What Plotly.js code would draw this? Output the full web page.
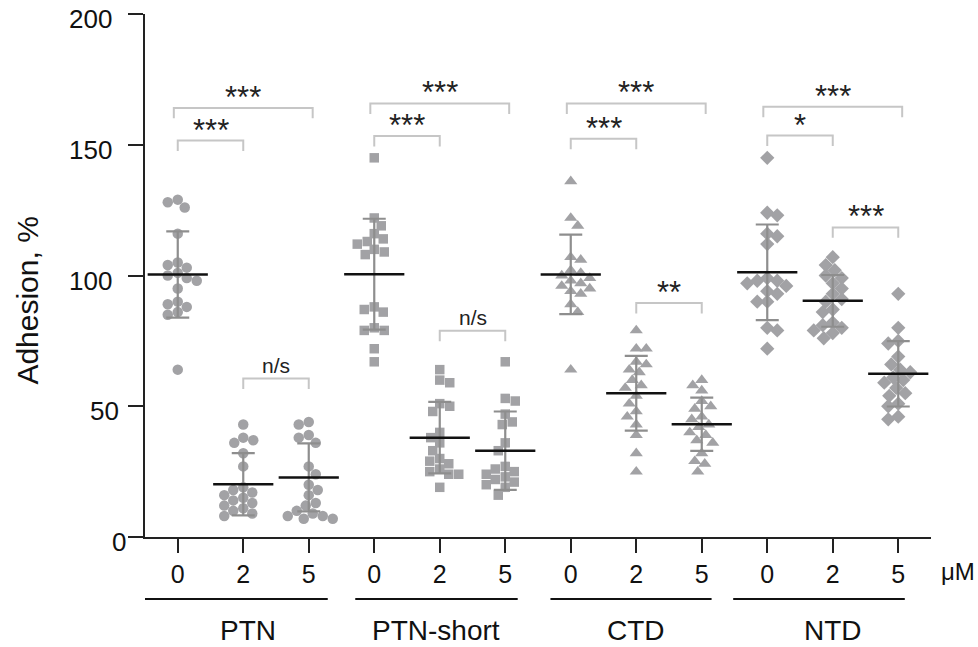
<!DOCTYPE html>
<html>
<head>
<meta charset="utf-8">
<script src="https://cdn.plot.ly/plotly-3.0.1.min.js"></script>
<style>html,body{margin:0;padding:0;background:#fff;}#chart{width:978px;height:647px;}</style>
</head>
<body>
<div id="chart"></div>
<script>
// ---- data ----
const groups = ['PTN', 'PTN-short', 'CTD', 'NTD'];
const doses = ['0', '2', '5'];
const doseUnit = 'μM';
const yTitle = 'Adhesion, %';
const yTickVals = [0, 50, 100, 150, 200];

const ptn_0 = [129, 128, 126, 116, 105, 104, 103, 101, 100, 99, 98, 95, 90, 89, 88, 86, 85, 64];
const ptn_2 = [43, 38, 37, 36, 32, 27, 19, 18, 17, 16, 15, 14, 13, 12, 11, 10, 9, 8];
const ptn_5 = [44, 43, 39, 38, 36, 27, 24, 20, 18, 16, 13, 12, 10, 9, 8, 8, 7, 7];
const short_0 = [145, 122, 119, 116, 114, 113, 112, 110, 109, 108, 88, 87, 86, 80, 79, 79, 72, 67];
const short_2 = [64, 60, 59, 51, 50, 48, 40, 38, 36, 33, 30, 29, 28, 26, 25, 24, 24, 19];
const short_5 = [67, 53, 52, 47, 44, 43, 36, 33, 27, 26, 25, 24, 23, 22, 21, 20, 19, 16];
const ctd_0 = [136, 122, 119, 107, 106, 102, 101, 100, 99, 98, 97, 96, 95, 94, 93, 89, 86, 64];
const ctd_2 = [79, 72, 72, 67, 66, 64, 63, 60, 58, 57, 54, 51, 48, 46, 43, 39, 32, 25];
const ctd_5 = [60, 58, 56, 52, 50, 49, 46, 45, 43, 42, 40, 39, 37, 36, 32, 29, 28, 25];
const ntd_0 = [145, 124, 123, 116, 115, 112, 99, 98, 98, 97, 96, 94, 93, 90, 90, 80, 79, 72];
const ntd_2 = [107, 104, 102, 100, 99, 97, 95, 93, 91, 90, 87, 86, 82, 81, 80, 79, 78, 76];
const ntd_5 = [93, 80, 75, 74, 69, 66, 64, 63, 61, 60, 59, 57, 55, 54, 51, 50, 46, 45];

const means = [100.4, 20.2, 22.8, 100.5, 38.0, 33.0, 100.4, 55.0, 43.1, 101.2, 90.3, 62.4];
const sds   = [16.5, 11.9, 13.0, 21.2, 13.7, 15.0, 15.2, 14.3, 10.2, 18.3, 9.9, 12.5];

// significance brackets: from column, to column, level, label
const brFrom = [0, 0, 1, 3, 3, 4, 6, 6, 7, 9, 9, 10];
const brTo   = [2, 1, 2, 5, 4, 5, 8, 7, 8, 11, 10, 11];
const brY    = [164.1, 151.6, 60.6, 165.8, 153.3, 78.9, 165.8, 152.3, 89.5, 164.5, 153.5, 118.4];
const brText = ['***', '***', 'n/s', '***', '***', 'n/s', '***', '***', '**', '***', '*', '***'];

// ---- build ----
const columns = [ptn_0, ptn_2, ptn_5, short_0, short_2, short_5, ctd_0, ctd_2, ctd_5, ntd_0, ntd_2, ntd_5];
const symbols = ['circle', 'square', 'triangle-up', 'diamond'];
const symSize = [10.5, 9.5, 11.5, 11];

const W = 978, H = 647;
const M = {l: 145, r: 47, t: 14, b: 110};
const xRange = [-0.5, 11.5], yRange = [0, 200];
const pxX = (W - M.l - M.r) / (xRange[1] - xRange[0]);
const pxY = (H - M.t - M.b) / (yRange[1] - yRange[0]);
const FONT = 'Liberation Sans, Arial, Helvetica, sans-serif';

// deterministic beeswarm offsets (pixels -> category units)
function swarm(vals, minDist) {
  const order = vals.map((v, i) => i).sort((a, b) => vals[b] - vals[a]);
  const placed = [];
  const offs = new Array(vals.length).fill(0);
  let flip = 1;
  for (const i of order) {
    const py = vals[i] * pxY;
    let found = null;
    for (let k = 0; k < 80 && found === null; k++) {
      const cands = k === 0 ? [0] : [flip * k, -flip * k];
      for (const c of cands) {
        if (placed.every(p => Math.hypot(p.x - c, p.y - py) >= minDist)) { found = c; break; }
      }
    }
    flip = -flip;
    placed.push({x: found, y: py});
    offs[i] = found / pxX;
  }
  return offs;
}

const traces = [];
columns.forEach((vals, c) => {
  const g = Math.floor(c / 3);
  const offs = swarm(vals, 10);
  traces.push({
    type: 'scatter', mode: 'markers',
    x: vals.map((v, i) => c + offs[i]), y: vals,
    marker: {symbol: symbols[g], size: symSize[g], color: '#a2a2a5', line: {width: 0}},
    hoverinfo: 'y', showlegend: false, cliponaxis: false
  });
});
// mean lines with SD error bars
traces.push({
  type: 'scatter', mode: 'markers',
  x: means.map((m, i) => i), y: means,
  marker: {symbol: 'line-ew', size: 43, color: '#111', line: {width: 2.5, color: '#111'}},
  error_y: {type: 'data', array: sds, visible: true, color: '#8e8e8e', thickness: 2.2, width: 11.5},
  hoverinfo: 'y', showlegend: false, cliponaxis: false
});

const shapes = [];
const annotations = [];
// brackets
brFrom.forEach((a, k) => {
  const b = brTo[k];
  const ext = (b - a) > 1.5 ? 0.06 : 0;
  const x0 = a - ext, x1 = b + ext, y1 = brY[k], y0 = y1 - 4;
  shapes.push({type: 'path', xref: 'x', yref: 'y',
    path: `M ${x0},${y0} L ${x0},${y1} L ${x1},${y1} L ${x1},${y0}`,
    line: {color: '#c6c6c6', width: 2}});
  const isStar = brText[k].indexOf('*') >= 0;
  annotations.push({xref: 'x', yref: 'y', x: (a + b) / 2, y: y1, text: brText[k],
    showarrow: false, xanchor: 'center', yanchor: 'bottom',
    yshift: isStar ? -9 : 0,
    font: {family: FONT, size: isStar ? 31 : 21, color: '#222'}});
});
// y tick labels
yTickVals.forEach(v => {
  const txt = String(v);
  annotations.push({xref: 'paper', yref: 'y', x: 0, y: v, text: txt, showarrow: false,
    xanchor: 'right', yanchor: 'middle', xshift: -(31 - (3 - txt.length) * 7), yshift: -5,
    font: {family: FONT, size: 26, color: '#111'}});
});
// y title
annotations.push({xref: 'paper', yref: 'paper', x: 0, xshift: -117, y: 0.452, text: yTitle,
  textangle: -90, showarrow: false, xanchor: 'center', yanchor: 'middle',
  font: {family: FONT, size: 30, color: '#111'}});
// dose unit
annotations.push({xref: 'paper', yref: 'paper', x: 1, xshift: 27, y: -0.066, text: doseUnit,
  showarrow: false, xanchor: 'center', yanchor: 'middle',
  font: {family: FONT, size: 24, color: '#111'}});
// group underlines and labels
const lineSpans = [[-0.5, 2.29], [2.71, 5.19], [5.69, 8.15], [8.48, 11.1]];
const labelX = [1.08, 3.95, 7.0, 10.0];
groups.forEach((g, i) => {
  shapes.push({type: 'line', xref: 'x', yref: 'paper', x0: lineSpans[i][0], x1: lineSpans[i][1],
    y0: -0.1185, y1: -0.1185, line: {color: '#111', width: 2.2}});
  annotations.push({xref: 'x', yref: 'paper', x: labelX[i], y: -0.179, text: g, showarrow: false,
    xanchor: 'center', yanchor: 'middle', font: {family: FONT, size: 28, color: '#111'}});
});

const tickVals = [], tickText = [];
groups.forEach((g, gi) => doses.forEach((d, di) => { tickVals.push(gi * 3 + di); tickText.push(d); }));

const layout = {
  width: W, height: H,
  margin: M,
  paper_bgcolor: '#fff', plot_bgcolor: '#fff',
  showlegend: false,
  xaxis: {range: xRange, tickvals: tickVals, ticktext: tickText, ticks: 'outside', ticklen: 14,
    tickwidth: 2, tickcolor: '#222', showline: true, linewidth: 2, linecolor: '#222',
    showgrid: false, zeroline: false, fixedrange: true,
    tickfont: {family: FONT, size: 25, color: '#111'}},
  yaxis: {range: yRange, tickvals: yTickVals, ticks: 'outside', ticklen: 15, tickwidth: 2,
    tickcolor: '#222', showline: true, linewidth: 2, linecolor: '#222', showgrid: false,
    zeroline: false, showticklabels: false, fixedrange: true},
  shapes: shapes,
  annotations: annotations
};

Plotly.newPlot('chart', traces, layout, {displayModeBar: false, staticPlot: true});
</script>
</body>
</html>
